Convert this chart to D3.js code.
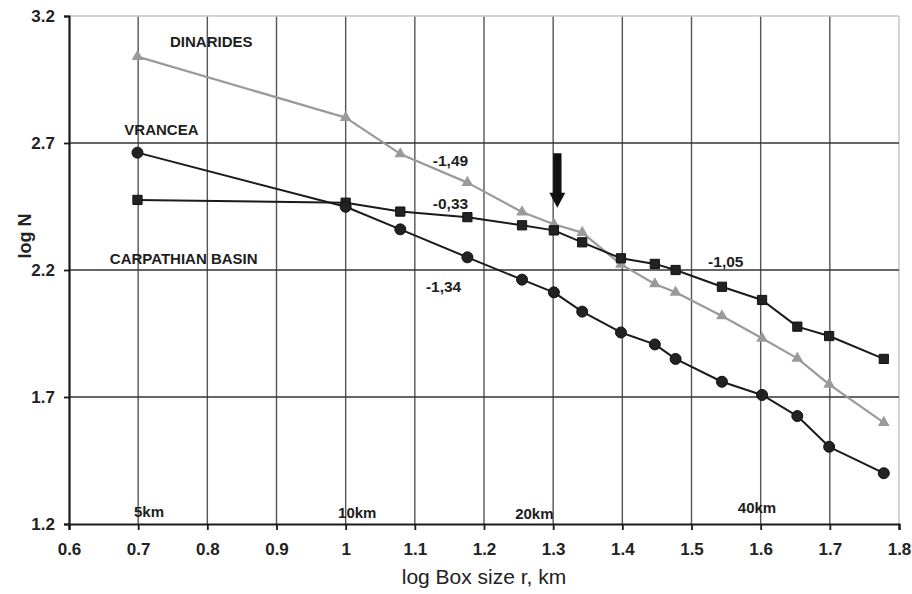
<!DOCTYPE html>
<html>
<head>
<meta charset="utf-8">
<script src="https://cdn.jsdelivr.net/npm/d3@7/dist/d3.min.js"></script>
<style>
  html, body { margin: 0; padding: 0; background: #fff; }
  svg { display: block; font-family: "Liberation Sans", Arial, sans-serif; }
</style>
</head>
<body>
<svg id="chart" width="912" height="594"></svg>
<script>
// ---- data ----
const logBoxSize = [0.699, 1.0, 1.079, 1.176, 1.255, 1.301, 1.342, 1.398, 1.447, 1.477, 1.544, 1.602, 1.653, 1.699, 1.778];
const dinarides  = [3.04, 2.80, 2.657, 2.544, 2.428, 2.38, 2.347, 2.222, 2.145, 2.112, 2.019, 1.931, 1.852, 1.75, 1.599];
const vrancea    = [2.662, 2.449, 2.36, 2.25, 2.162, 2.112, 2.036, 1.954, 1.907, 1.85, 1.76, 1.708, 1.625, 1.504, 1.40];
const carpathian = [2.476, 2.465, 2.43, 2.408, 2.376, 2.356, 2.309, 2.246, 2.224, 2.20, 2.134, 2.082, 1.977, 1.94, 1.85];
const xTicks = [0.6, 0.7, 0.8, 0.9, 1.0, 1.1, 1.2, 1.3, 1.4, 1.5, 1.6, 1.7, 1.8];
const xTickLabels = ["0.6", "0.7", "0.8", "0.9", "1", "1.1", "1.2", "1.3", "1.4", "1.5", "1.6", "1.7", "1.8"];
const yTicks = [1.2, 1.7, 2.2, 2.7, 3.2];
const yTickLabels = ["1.2", "1.7", "2.2", "2.7", "3.2"];
const seriesNames = ["DINARIDES", "VRANCEA", "CARPATHIAN BASIN"];
const seriesLabelPos = [[0.746, 3.076], [0.680, 2.733], [0.659, 2.222]];
const slopeLabels = ["-1,49", "-0,33", "-1,34", "-1,05"];
const slopeLabelPos = [[1.126, 2.611], [1.126, 2.442], [1.116, 2.115], [1.524, 2.210]];
const kmLabels = ["5km", "10km", "20km", "40km"];
const kmLabelPos = [[0.694, 1.228], [0.989, 1.224], [1.245, 1.220], [1.567, 1.243]];
const arrowX = 1.306, arrowTop = 2.66, arrowTip = 2.445;

// ---- layout ----
const svg = d3.select("#chart");
const mLeft = 69, mRight = 899, mTop = 16, mBottom = 524;
const x = d3.scaleLinear().domain([0.6, 1.8]).range([mLeft, mRight]);
const y = d3.scaleLinear().domain([1.2, 3.2]).range([mBottom, mTop]);
const ink = "#1a1a1a";
const gray = "#9a9a9a";

// grid
const g = svg.append("g");
xTicks.slice(1).forEach(t => {
  g.append("line").attr("x1", x(t)).attr("x2", x(t)).attr("y1", y(3.2)).attr("y2", y(1.2))
    .attr("stroke", t >= 1.8 ? "#c4c4c4" : "#555").attr("stroke-width", 1.4);
});
yTicks.slice(1).forEach(t => {
  g.append("line").attr("x1", x(0.6)).attr("x2", x(1.8)).attr("y1", y(t)).attr("y2", y(t))
    .attr("stroke", t >= 3.2 ? "#c4c4c4" : "#333").attr("stroke-width", 1.4);
});

// axes
const xAxis = d3.axisBottom(x).tickValues(xTicks).tickFormat((d, i) => xTickLabels[i]).tickSize(6).tickPadding(13);
const yAxis = d3.axisLeft(y).tickValues(yTicks).tickFormat((d, i) => yTickLabels[i]).tickSize(5).tickPadding(9);
const xg = svg.append("g").attr("transform", `translate(0,${mBottom})`).call(xAxis);
const yg = svg.append("g").attr("transform", `translate(${mLeft},0)`).call(yAxis);
[xg, yg].forEach(a => {
  a.select(".domain").attr("stroke", ink).attr("stroke-width", 2.2);
  a.selectAll(".tick line").attr("stroke", ink).attr("stroke-width", 1.8);
  a.selectAll(".tick text").attr("fill", "#222").attr("font-size", 17).attr("font-weight", "bold")
    .attr("font-family", "'Liberation Sans', Arial, sans-serif");
});

// axis titles
svg.append("text").attr("x", 484).attr("y", 584).attr("text-anchor", "middle")
  .attr("font-size", 21).attr("fill", "#222").text("log Box size r, km");
svg.append("text").attr("transform", `translate(31,236) rotate(-90)`)
  .attr("text-anchor", "middle").attr("font-size", 18).attr("font-weight", "bold").attr("fill", "#222").text("log N");

// lines
const line = d3.line().x(d => x(d[0])).y(d => y(d[1]));
const pts = arr => logBoxSize.map((v, i) => [v, arr[i]]);

svg.append("path").datum(pts(dinarides)).attr("d", line).attr("fill", "none").attr("stroke", gray).attr("stroke-width", 2.2).attr("stroke-linejoin", "round");
svg.append("path").datum(pts(carpathian)).attr("d", line).attr("fill", "none").attr("stroke", ink).attr("stroke-width", 2).attr("stroke-linejoin", "round");
svg.append("path").datum(pts(vrancea)).attr("d", line).attr("fill", "none").attr("stroke", ink).attr("stroke-width", 2).attr("stroke-linejoin", "round");

// markers
const tri = d3.symbol().type(d3.symbolTriangle).size(60);
svg.append("g").selectAll("path").data(pts(dinarides)).join("path")
  .attr("transform", d => `translate(${x(d[0])},${y(d[1])})`).attr("d", tri).attr("fill", gray);
const sq = d3.symbol().type(d3.symbolSquare).size(85);
svg.append("g").selectAll("path").data(pts(carpathian)).join("path")
  .attr("transform", d => `translate(${x(d[0])},${y(d[1])})`).attr("d", sq).attr("fill", "#222").attr("stroke", "#111").attr("stroke-width", 1);
svg.append("g").selectAll("circle").data(pts(vrancea)).join("circle")
  .attr("cx", d => x(d[0])).attr("cy", d => y(d[1])).attr("r", 5.5).attr("fill", "#222").attr("stroke", "#111").attr("stroke-width", 1);

// annotations
const ann = svg.append("g").attr("font-weight", "bold").attr("fill", "#1e1e1e");
seriesNames.forEach((s, i) => {
  ann.append("text").attr("x", x(seriesLabelPos[i][0])).attr("y", y(seriesLabelPos[i][1])).attr("font-size", 15).text(s);
});
slopeLabels.forEach((s, i) => {
  ann.append("text").attr("x", x(slopeLabelPos[i][0])).attr("y", y(slopeLabelPos[i][1])).attr("font-size", 15.5).text(s);
});
kmLabels.forEach((s, i) => {
  ann.append("text").attr("x", x(kmLabelPos[i][0])).attr("y", y(kmLabelPos[i][1])).attr("font-size", 15).text(s);
});

// arrow
const ax = x(arrowX), at = y(arrowTop), ab = y(arrowTip);
const headH = 15, headW = 8, shaftW = 4.2;
svg.append("path")
  .attr("d", `M${ax - shaftW},${at} L${ax + shaftW},${at} L${ax + shaftW},${ab - headH} L${ax + headW},${ab - headH} L${ax},${ab} L${ax - headW},${ab - headH} L${ax - shaftW},${ab - headH} Z`)
  .attr("fill", "#111");
</script>
</body>
</html>
